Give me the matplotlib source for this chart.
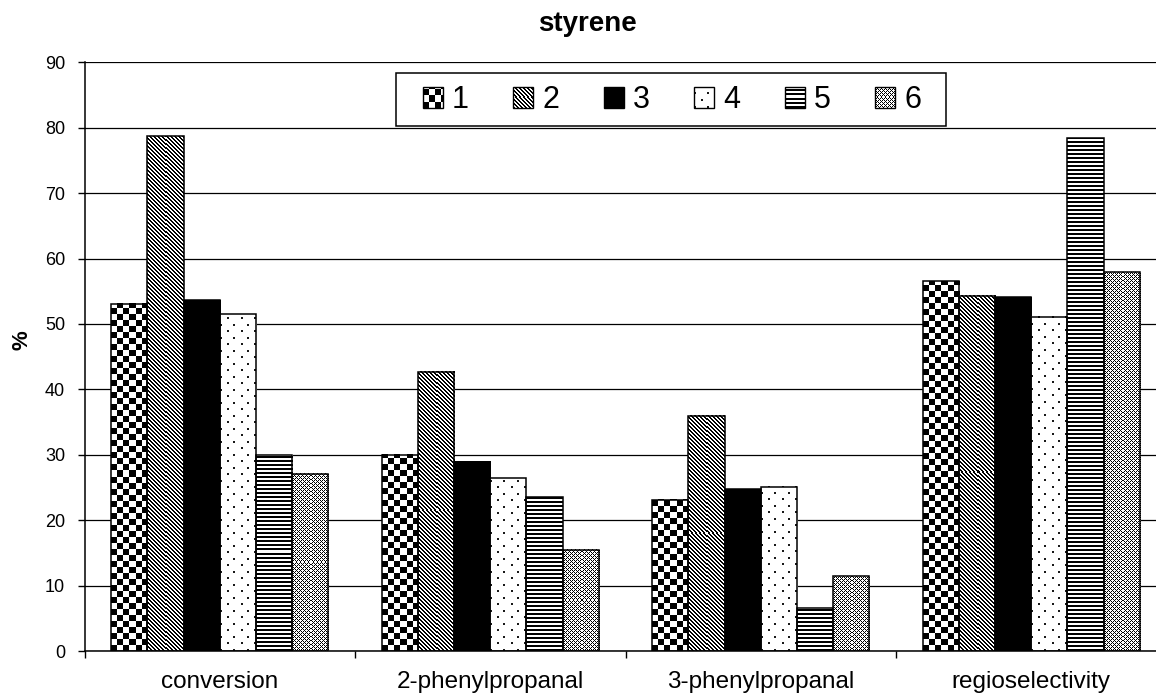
import numpy as np
import matplotlib
matplotlib.use("Agg")
import matplotlib.pyplot as plt
from matplotlib.patches import Rectangle
from matplotlib.legend_handler import HandlerBase
from matplotlib.image import BboxImage
from matplotlib.transforms import Bbox, TransformedBbox
from matplotlib.colors import Normalize

# ---------------- data ----------------
title = "styrene"
categories = ["conversion", "2-phenylpropanal", "3-phenylpropanal", "regioselectivity"]
series_names = ["1", "2", "3", "4", "5", "6"]
s1 = [53.1, 30.0, 23.1, 56.5]
s2 = [78.7, 42.7, 36.0, 54.3]
s3 = [53.6, 28.9, 24.7, 54.1]
s4 = [51.5, 26.4, 25.1, 51.1]
s5 = [30.0, 23.5, 6.5, 78.4]
s6 = [27.1, 15.5, 11.4, 57.9]
series = [s1, s2, s3, s4, s5, s6]
yticks = [0, 10, 20, 30, 40, 50, 60, 70, 80, 90]
ylabel = "%"
patterns = ["checker", "diag", "solid", "dots", "hstripe", "cross"]

plt.rcParams["font.family"] = ["Liberation Sans", "DejaVu Sans"]

W, H = 1156, 698
fig = plt.figure(figsize=(W / 100, H / 100), dpi=100)
ax_left, ax_right, ax_top, ax_bot = 84.5, 1166.5, 62.3, 651.0
ax = fig.add_axes([ax_left / W, (H - ax_bot) / H, (ax_right - ax_left) / W, (ax_bot - ax_top) / H])


def texture(kind, w, h):
    xx = np.arange(w)[None, :]
    yy = np.arange(h)[:, None]
    a = np.ones((h, w))
    if kind == "checker":
        a = np.where(((xx // 6) + (yy // 6)) % 2 == 0, 0.0, 1.0)
    elif kind == "diag":
        a = np.where((xx + yy) % 4 < 2, 0.0, 1.0)
    elif kind == "solid":
        a = np.zeros((h, w))
    elif kind == "dots":
        d1 = ((xx % 13) < 2) & ((yy % 13) < 2)
        d2 = (((xx + 6) % 13) < 2) & (((yy + 6) % 13) < 2)
        a = np.where(d1 | d2, 0.1, 1.0)
    elif kind == "hstripe":
        a = np.where((yy % 4) < 2, 0.0, 1.0) + 0 * xx
    elif kind == "cross":
        a = np.where(((xx + yy) % 4 == 0) | ((xx - yy) % 4 == 0), 0.0, 1.0)
    return np.broadcast_to(a, (h, w)).astype(float).copy()


n = len(series)
x = np.arange(len(categories))
bw = 0.1337
ax.set_xlim(-0.5, len(categories) - 0.5)
ax.set_ylim(0, 90)
ax.set_autoscale_on(False)

ppx = ax.transData.transform((1, 0))[0] - ax.transData.transform((0, 0))[0]
ppy = ax.transData.transform((0, 1))[1] - ax.transData.transform((0, 0))[1]

for i, (vals, pat) in enumerate(zip(series, patterns)):
    pos = x + (i - (n - 1) / 2) * bw
    ax.bar(pos, vals, bw, facecolor="none", edgecolor="black", linewidth=1.1, zorder=3)
    for p, v in zip(pos, vals):
        wpx = max(1, int(round(bw * ppx)))
        hpx = max(1, int(round(v * ppy)))
        ax.imshow(texture(pat, wpx, hpx), cmap="gray", vmin=0, vmax=1,
                  extent=(p - bw / 2, p + bw / 2, 0, v), origin="lower",
                  interpolation="nearest", aspect="auto", zorder=2)

ax.set_xlim(-0.5, len(categories) - 0.5)
ax.set_ylim(0, 90)

# axes styling
for s in ["top", "right"]:
    ax.spines[s].set_visible(False)
for s in ["left", "bottom"]:
    ax.spines[s].set_linewidth(1.1)
ax.set_axisbelow(True)
ax.set_yticks(yticks)
ax.yaxis.grid(True, color="black", linewidth=0.9)
ax.tick_params(axis="y", direction="out", length=5, width=1, labelsize=13, pad=9)
ax.set_xticks(x)
ax.set_xticklabels(categories, fontsize=17.5)
ax.tick_params(axis="x", which="major", length=0, pad=14.5)
ax.set_xticks(np.arange(-0.5, len(categories) + 0.5, 1), minor=True)
ax.tick_params(axis="x", which="minor", direction="out", length=5, width=1)

fig.text(22 / W, 1 - 340 / H, ylabel, rotation=90, ha="center", va="center",
         fontsize=16, fontweight="bold")
fig.text(587.5 / W, 1 - 24 / H, title, ha="center", va="center",
         fontsize=20, fontweight="bold")


# legend with textured swatches
class HandlerTexture(HandlerBase):
    def __init__(self, kind):
        super().__init__()
        self.kind = kind

    def create_artists(self, legend, orig_handle, xdescent, ydescent, width, height, fontsize, trans):
        bb = TransformedBbox(Bbox.from_bounds(-xdescent, -ydescent, width, height), trans)
        img = BboxImage(bb, cmap="gray", norm=Normalize(0, 1), interpolation="nearest",
                        origin="lower")
        img.set_data(texture(self.kind, 20, 20))
        rect = Rectangle((-xdescent, -ydescent), width, height, fill=False,
                         edgecolor="black", linewidth=1.0, transform=trans)
        return [img, rect]


handles = [Rectangle((0, 0), 1, 1) for _ in series_names]
hmap = {h: HandlerTexture(k) for h, k in zip(handles, patterns)}

frame = Rectangle((396 / W, 1 - 126 / H), 550 / W, 53 / H, transform=fig.transFigure,
                  facecolor="white", edgecolor="black", linewidth=1.1, zorder=4)
fig.add_artist(frame)
leg = fig.legend(handles, series_names, handler_map=hmap, loc="center",
                 bbox_to_anchor=(672 / W, 1 - 100 / H), bbox_transform=fig.transFigure,
                 ncol=6, frameon=False, fontsize=22, handlelength=0.654, handleheight=0.654,
                 handletextpad=0.3, columnspacing=1.45, borderpad=0.2)
leg.set_zorder(5)

fig.savefig("out.png", dpi=100)
